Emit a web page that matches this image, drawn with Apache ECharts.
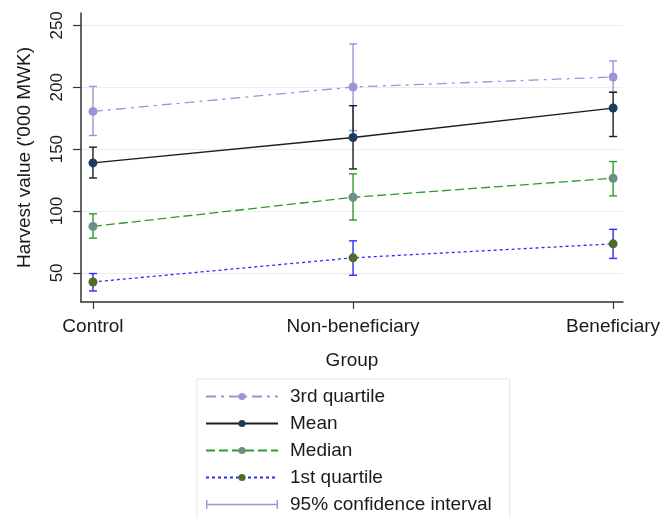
<!DOCTYPE html>
<html>
<head>
<meta charset="utf-8">
<script src="https://cdn.jsdelivr.net/npm/echarts@6/dist/echarts.min.js"></script>
<style>
  html, body { margin: 0; padding: 0; background: #fff; }
  #chart { width: 660px; height: 518px; }
</style>
</head>
<body>
<div id="chart"></div>
<script>
// groups on the x axis
var groups = ['Control', 'Non-beneficiary', 'Beneficiary'];
var yTicks = [50, 100, 150, 200, 250];

// point estimates per group
var q3Values = [180.5, 200.2, 208.3];
var meanValues = [138.9, 159.4, 183.2];
var medianValues = [87.6, 111.1, 126.5];
var q1Values = [42.7, 62.2, 73.5];

// 95% confidence intervals [low, high] per group
var q3Ci = [[161, 200.7], [165, 235], [196.2, 221.3]];
var meanCi = [[126.7, 151.6], [134, 185.1], [160.2, 195.9]];
var medianCi = [[78.1, 97.8], [92.7, 130], [112.2, 140]];
var q1Ci = [[35.4, 49.5], [48.1, 75.9], [61.7, 85.2]];

var FONT = "'Liberation Sans', Arial, sans-serif";
var TEXT = '#1a1a1a';

function toPoints(values) {
    return values.map(function (v, i) { return [i, v]; });
}

// one row per whisker: x, low, high, colour
function ciRows(ci, color) {
    return ci.map(function (c, i) { return { value: [i, c[0], c[1]], itemStyle: { color: color } }; });
}

var ciData = []
    .concat(ciRows(q3Ci, '#9c94d9'))
    .concat(ciRows(meanCi, '#1c1c1c'))
    .concat(ciRows(medianCi, '#2e9a2e'))
    .concat(ciRows(q1Ci, '#2b2bff'));

function renderCi(params, api) {
    var x = api.value(0);
    var lo = api.coord([x, api.value(1)]);
    var hi = api.coord([x, api.value(2)]);
    var color = api.visual('color');
    var cap = 4;
    var style = { stroke: color, lineWidth: 1.4 };
    return {
        type: 'group',
        children: [
            { type: 'line', shape: { x1: lo[0], y1: lo[1], x2: hi[0], y2: hi[1] }, style: style },
            { type: 'line', shape: { x1: lo[0] - cap, y1: lo[1], x2: lo[0] + cap, y2: lo[1] }, style: style },
            { type: 'line', shape: { x1: hi[0] - cap, y1: hi[1], x2: hi[0] + cap, y2: hi[1] }, style: style }
        ]
    };
}

function lineSeries(name, values, lineColor, dotColor, dash) {
    return {
        name: name,
        type: 'line',
        data: toPoints(values),
        symbol: 'circle',
        symbolSize: 9,
        z: 3,
        itemStyle: { color: dotColor },
        lineStyle: { color: lineColor, width: 1.3, type: dash },
        emphasis: { disabled: true }
    };
}

var chart = echarts.init(document.getElementById('chart'));
var option = {
    animation: false,
    textStyle: { fontFamily: FONT },
    grid: { left: 81, right: 37, top: 13, bottom: 216, outerBoundsMode: 'none' },
    xAxis: {
        type: 'value',
        min: -0.046,
        max: 2.038,
        name: 'Group',
        nameLocation: 'middle',
        nameGap: 49,
        nameTextStyle: { fontSize: 19, color: TEXT, fontFamily: FONT },
        axisLine: { lineStyle: { color: '#333', width: 1.5 } },
        axisTick: { customValues: [0, 1, 2], length: 7, lineStyle: { color: '#333', width: 1.2 } },
        axisLabel: {
            customValues: [0, 1, 2],
            margin: 15,
            fontSize: 19,
            color: TEXT,
            fontFamily: FONT,
            formatter: function (v) { return groups[Math.round(v)]; }
        },
        splitLine: { show: false }
    },
    yAxis: {
        type: 'value',
        min: 26.5,
        max: 260,
        name: "Harvest value ('000 MWK)",
        nameLocation: 'middle',
        nameGap: 47,
        nameTextStyle: { fontSize: 19, color: TEXT, fontFamily: FONT },
        axisLine: { show: true, onZero: false, lineStyle: { color: '#333', width: 1.5 } },
        axisTick: { show: true, customValues: yTicks, length: 8, lineStyle: { color: '#333', width: 1.2 } },
        axisLabel: { customValues: yTicks, rotate: 90, margin: 15, fontSize: 17, color: TEXT, fontFamily: FONT },
        splitLine: { show: true, lineStyle: { color: '#e6eef1', width: 1.2 } }
    },
    legend: {
        orient: 'vertical',
        left: 197,
        top: 379,
        height: 200,
        padding: [8, 18, 8, 8],
        borderColor: '#dde7ea',
        borderWidth: 1,
        itemWidth: 72,
        itemHeight: 9,
        itemGap: 8,
        textStyle: { fontSize: 19, color: TEXT, fontFamily: FONT, padding: [0, 0, 0, 7] },
        symbolKeepAspect: false,
        data: [
            '3rd quartile', 'Mean', 'Median', '1st quartile',
            { name: '95% confidence interval', icon: 'path://M0,4.3h72v1.4h-72z M0,1h1.4v8h-1.4z M70.6,1h1.4v8h-1.4z' }
        ]
    },
    series: [
        lineSeries('3rd quartile', q3Values, '#9c94d9', '#9c94d9', [10, 5, 3, 5]),
        lineSeries('Mean', meanValues, '#1c1c1c', '#1a3d5c', 'solid'),
        lineSeries('Median', medianValues, '#2e9a2e', '#6b8f84', [9, 4]),
        lineSeries('1st quartile', q1Values, '#2b2bff', '#4e6b2a', [3, 3]),
        {
            name: '95% confidence interval',
            type: 'custom',
            z: 2,
            itemStyle: { color: '#9c94d9' },
            renderItem: renderCi,
            encode: { x: 0, y: [1, 2] },
            data: ciData
        }
    ]
};
chart.setOption(option);
</script>
</body>
</html>
